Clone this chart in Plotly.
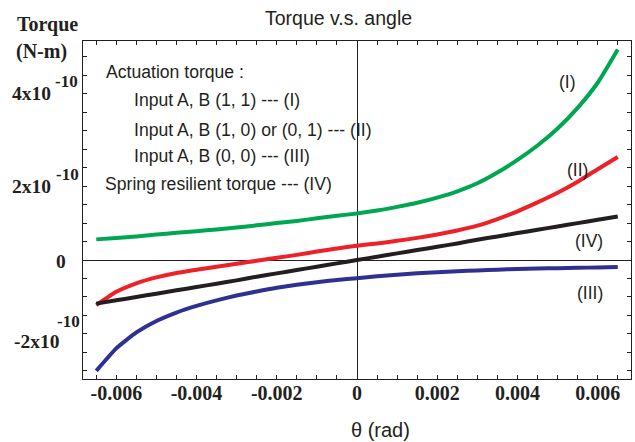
import plotly.graph_objects as go

# ---- data (torque in N-m, angle in rad) ----
theta = [-0.0065, -0.0060, -0.0055, -0.0050, -0.0045, -0.0040, -0.0035, -0.0030, -0.0025,
         -0.0020, -0.0015, -0.0010, -0.0005, 0.0, 0.0005, 0.0010, 0.0015, 0.0020, 0.0025,
         0.0030, 0.0035, 0.0040, 0.0045, 0.0050, 0.0055, 0.0060, 0.0065]

torque_I = [0.56e-10, 0.60e-10, 0.64e-10, 0.69e-10, 0.74e-10, 0.78e-10, 0.83e-10, 0.88e-10, 0.94e-10,
            1.00e-10, 1.06e-10, 1.13e-10, 1.20e-10, 1.26e-10, 1.34e-10, 1.44e-10, 1.55e-10, 1.69e-10,
            1.86e-10, 2.08e-10, 2.37e-10, 2.71e-10, 3.10e-10, 3.56e-10, 4.12e-10, 4.80e-10, 5.70e-10]

torque_II = [-1.22e-10, -0.86e-10, -0.63e-10, -0.47e-10, -0.35e-10, -0.26e-10, -0.18e-10, -0.10e-10,
             -0.02e-10, 0.06e-10, 0.14e-10, 0.23e-10, 0.31e-10, 0.39e-10, 0.45e-10, 0.52e-10, 0.60e-10,
             0.69e-10, 0.80e-10, 0.93e-10, 1.11e-10, 1.32e-10, 1.56e-10, 1.82e-10, 2.12e-10, 2.46e-10,
             2.79e-10]

torque_III = [-3.00e-10, -2.39e-10, -1.96e-10, -1.65e-10, -1.42e-10, -1.24e-10, -1.09e-10, -0.96e-10,
              -0.85e-10, -0.75e-10, -0.67e-10, -0.60e-10, -0.54e-10, -0.49e-10, -0.44e-10, -0.40e-10,
              -0.36e-10, -0.33e-10, -0.30e-10, -0.28e-10, -0.26e-10, -0.24e-10, -0.23e-10, -0.22e-10,
              -0.21e-10, -0.20e-10, -0.19e-10]

torque_IV = [-1.18e-10, -1.09e-10, -1.00e-10, -0.91e-10, -0.82e-10, -0.73e-10, -0.64e-10, -0.55e-10,
             -0.45e-10, -0.36e-10, -0.27e-10, -0.18e-10, -0.09e-10, 0.0, 0.09e-10, 0.18e-10, 0.27e-10,
             0.36e-10, 0.45e-10, 0.55e-10, 0.64e-10, 0.73e-10, 0.82e-10, 0.91e-10, 1.00e-10, 1.09e-10,
             1.18e-10]

x_tick_vals = [-0.0065, -0.0060, -0.0055, -0.0050, -0.0045, -0.0040, -0.0035, -0.0030, -0.0025,
               -0.0020, -0.0015, -0.0010, -0.0005, 0.0, 0.0005, 0.0010, 0.0015, 0.0020, 0.0025,
               0.0030, 0.0035, 0.0040, 0.0045, 0.0050, 0.0055, 0.0060, 0.0065]
x_tick_text = ["", "-0.006", "", "", "", "-0.004", "", "", "", "-0.002", "", "", "", "0",
               "", "", "", "0.002", "", "", "", "0.004", "", "", "", "0.006", ""]

y_tick_vals = [-3.0e-10, -2.5e-10, -2.0e-10, -1.5e-10, -1.0e-10, -0.5e-10, 0.0, 0.5e-10, 1.0e-10,
               1.5e-10, 2.0e-10, 2.5e-10, 3.0e-10, 3.5e-10, 4.0e-10, 4.5e-10, 5.0e-10, 5.5e-10]

legend_lines = ["Actuation torque :",
                "Input A, B (1, 1) --- (I)",
                "Input A, B (1, 0) or (0, 1) --- (II)",
                "Input A, B (0, 0) --- (III)",
                "Spring resilient torque --- (IV)"]
curve_labels = ["(I)", "(II)", "(IV)", "(III)"]
y_label_bases = ["4x10", "2x10", "0", "-2x10"]

# ---- layout geometry ----
W, H = 635, 442
ML, MR, MT, MB = 83, 4, 41, 63
PW, PH = W - ML - MR, H - MT - MB


def pxx(x):
    return (x - ML) / PW


def pxy(y):
    return (H - MB - y) / PH


GREEN = "rgb(0,166,81)"
RED = "rgb(237,33,39)"
BLUE = "rgb(46,49,146)"
BLACK = "rgb(35,31,32)"

fig = go.Figure()
for ys, col in [(torque_I, GREEN), (torque_II, RED), (torque_IV, BLACK), (torque_III, BLUE)]:
    fig.add_trace(go.Scatter(x=theta, y=ys, mode="lines",
                             line=dict(color=col, width=4, shape="spline", smoothing=0.5),
                             showlegend=False, hoverinfo="skip"))

SANS = "Liberation Sans"
SERIF = "Liberation Serif"
ann = []


def add_text(text, x, y, size, family=SANS, xanchor="left", weight="normal"):
    ann.append(dict(text=text, x=pxx(x), y=pxy(y), xref="paper", yref="paper", showarrow=False,
                    xanchor=xanchor, yanchor="middle",
                    font=dict(family=family, size=size, color="#231f20", weight=weight)))


# title and x-axis title
add_text("Torque v.s. angle", 338, 18, 19.5, xanchor="center")
add_text("θ (rad)", 381, 430, 20, xanchor="center")

# legend text block
legend_pos = [(104, 72), (132, 100), (132, 130), (132, 156), (103, 184)]
for t, (x, y) in zip(legend_lines, legend_pos):
    add_text(t, x, y, 17.6)

# curve labels
label_pos = [(567, 82), (577, 170), (589, 241), (590, 293)]
for t, (x, y) in zip(curve_labels, label_pos):
    add_text(t, x, y, 17.5, xanchor="center")

# y axis title
add_text("Torque", 47, 25, 20, family=SERIF, xanchor="center", weight="bold")
add_text("(N-m)", 41, 51, 20, family=SERIF, xanchor="center", weight="bold")

# y tick labels (hand placed as in the original)
base_pos = [(53, 93), (53, 186), (68, 261), (62, 341)]
sup_pos = [(53, 81), (54, 174), None, (55, 321)]
for t, bp, sp in zip(y_label_bases, base_pos, sup_pos):
    add_text(t, bp[0], bp[1], 19.5, family=SERIF, xanchor="right", weight="bold")
    if sp is not None:
        add_text("-10", sp[0], sp[1], 17, family=SERIF, xanchor="left", weight="bold")

fig.update_layout(
    width=W, height=H,
    margin=dict(l=ML, r=MR, t=MT, b=MB, pad=0),
    paper_bgcolor="white", plot_bgcolor="white",
    annotations=ann,
    showlegend=False,
)
fig.update_xaxes(range=[-0.00683, 0.00683], tickvals=x_tick_vals, ticktext=x_tick_text,
                 ticks="inside", ticklen=4, tickcolor="#231f20", tickwidth=1,
                 showline=True, linecolor="#231f20", linewidth=1, mirror="ticks",
                 showgrid=False, zeroline=True, zerolinecolor="#231f20", zerolinewidth=1,
                 tickfont=dict(family=SERIF, size=20, color="#231f20", weight="bold"),
                 ticklabelstandoff=-4)
fig.update_yaxes(range=[-3.22e-10, 5.93e-10], tickvals=y_tick_vals, showticklabels=False,
                 ticks="inside", ticklen=4, tickcolor="#231f20", tickwidth=1,
                 showline=True, linecolor="#231f20", linewidth=1, mirror="ticks",
                 showgrid=False, zeroline=True, zerolinecolor="#231f20", zerolinewidth=1)

fig.write_html("out.html")
